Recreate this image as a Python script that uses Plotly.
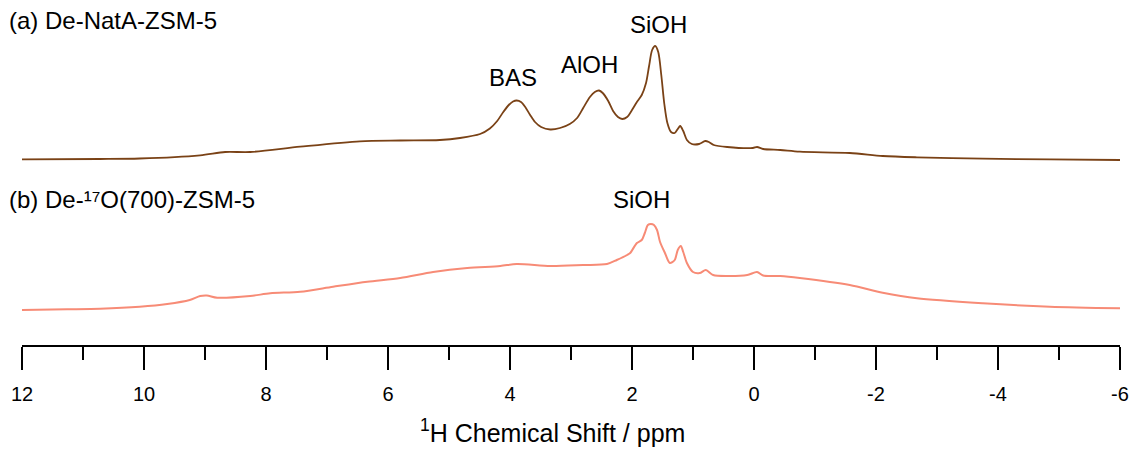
import plotly.graph_objects as go

# Spectrum (a) De-NatA-ZSM-5 : chemical shift (ppm) and intensity (a.u.)
ppm_a = [12.00, 10.72, 10.07, 9.08, 8.67, 8.26, 7.44, 6.46, 5.80, 5.15, 4.82, 4.49,
         4.33, 4.21, 4.11, 4.02, 3.95, 3.89, 3.82, 3.75, 3.67, 3.59, 3.49, 3.34,
         3.18, 3.02, 2.90, 2.80, 2.69, 2.61, 2.54, 2.48, 2.39, 2.31, 2.23, 2.16,
         2.08, 2.00, 1.92, 1.84, 1.77, 1.72, 1.67, 1.62, 1.57, 1.52, 1.47, 1.42,
         1.36, 1.30, 1.25, 1.21, 1.16, 1.10, 1.02, 0.90, 0.80, 0.74, 0.66, 0.44,
         0.02, -0.05, -0.15, -0.43, -0.75, -1.57, -2.11, -2.67, -3.75, -4.85, -6.00]
int_a = [0.7, 1.0, 1.5, 4.7, 8.0, 8.0, 13.3, 18.7, 19.5, 20.0, 22.0, 26.0,
         31.5, 39.0, 48.0, 55.0, 58.5, 59.5, 58.0, 53.0, 45.0, 38.0, 33.0, 30.5,
         32.0, 36.0, 42.0, 52.0, 63.0, 68.0, 69.5, 67.0, 59.0, 49.0, 43.0, 41.0,
         43.0, 50.0, 58.0, 65.0, 77.0, 94.0, 110.0, 114.0, 108.0, 85.0, 56.0, 37.0,
         28.0, 27.0, 31.0, 34.0, 29.0, 20.0, 16.0, 16.0, 19.0, 18.0, 15.0, 13.0,
         12.0, 13.0, 11.0, 10.0, 8.3, 7.0, 4.0, 2.7, 1.3, 0.7, 0.0]

# Spectrum (b) De-17O(700)-ZSM-5
ppm_b = [12.00, 11.26, 10.72, 10.07, 9.62, 9.25, 9.08, 8.97, 8.80, 8.26, 7.93, 7.44,
         6.90, 6.34, 5.80, 5.26, 4.70, 4.16, 3.89, 3.34, 2.80, 2.41, 2.25, 2.08,
         2.03, 1.92, 1.84, 1.79, 1.74, 1.69, 1.64, 1.59, 1.54, 1.46, 1.38, 1.30,
         1.25, 1.20, 1.16, 1.10, 1.00, 0.89, 0.79, 0.67, 0.44, 0.11, -0.05, -0.15,
         -0.43, -0.75, -1.57, -2.11, -2.67, -3.75, -4.85, -6.00]
int_b = [0.0, 0.7, 1.3, 3.3, 6.0, 10.0, 14.0, 14.5, 12.3, 14.0, 16.7, 18.3,
         23.3, 28.3, 32.0, 38.0, 42.0, 44.0, 46.0, 44.0, 45.0, 46.0, 50.0, 55.0,
         57.0, 67.0, 70.0, 77.0, 85.0, 86.0, 85.0, 80.0, 68.0, 57.0, 47.0, 50.0,
         60.0, 64.0, 58.0, 47.0, 38.0, 37.0, 40.0, 35.0, 34.0, 35.0, 38.0, 34.5,
         34.0, 32.0, 25.0, 17.3, 11.7, 6.7, 3.3, 1.7]

offset_a = 185
offset_b = 35

tick_vals = [12, 10, 8, 6, 4, 2, 0, -2, -4, -6]
tick_text = ["12", "10", "8", "6", "4", "2", "0", "-2", "-4", "-6"]
x_title = "<sup>1</sup>H Chemical Shift / ppm"

color_a = "#7a4216"
color_b = "#f78b76"
font_fam = "Liberation Sans, Arial, sans-serif"

fig = go.Figure()
fig.add_trace(go.Scatter(x=ppm_a, y=[v + offset_a for v in int_a], mode="lines",
                         line=dict(color=color_a, width=1.8, shape="spline", smoothing=0.8),
                         showlegend=False, hoverinfo="skip"))
fig.add_trace(go.Scatter(x=ppm_b, y=[v + offset_b for v in int_b], mode="lines",
                         line=dict(color=color_b, width=2.0, shape="spline", smoothing=0.8),
                         showlegend=False, hoverinfo="skip"))

ann_font = dict(family=font_fam, size=24, color="black")
annotations = [
    dict(text="(a) De-NatA-ZSM-5", xref="paper", yref="y", x=-0.0135, y=325,
         xanchor="left", yanchor="middle", showarrow=False, font=ann_font),
    dict(text="BAS", xref="x", yref="y", x=3.95, y=268, showarrow=False, font=ann_font),
    dict(text="AlOH", xref="x", yref="y", x=2.69, y=281, showarrow=False, font=ann_font),
    dict(text="SiOH", xref="x", yref="y", x=1.56, y=321, showarrow=False, font=ann_font),
    dict(text="(b) De-¹⁷O(700)-ZSM-5", xref="paper", yref="y", x=-0.0135, y=146,
         xanchor="left", yanchor="middle", showarrow=False, font=ann_font),
    dict(text="SiOH", xref="x", yref="y", x=1.85, y=146, showarrow=False, font=ann_font),
    dict(text=x_title, xref="paper", yref="paper", x=0.4827, y=-0.250,
         xanchor="center", yanchor="middle", showarrow=False,
         font=dict(family=font_fam, size=25, color="black")),
]

fig.update_layout(
    width=1131, height=450, autosize=False,
    margin=dict(l=22, r=11, t=0, b=105),
    paper_bgcolor="white", plot_bgcolor="white",
    annotations=annotations,
    xaxis=dict(
        range=[12, -6], showgrid=False, zeroline=False,
        showline=True, linecolor="black", linewidth=2,
        ticks="outside", ticklen=23, tickwidth=2, tickcolor="black",
        tickvals=tick_vals, ticktext=tick_text,
        tickfont=dict(family=font_fam, size=20, color="black"),
        ticklabelstandoff=7,
        minor=dict(dtick=1, tick0=0, ticks="outside", ticklen=13, tickwidth=2, tickcolor="black"),
    ),
    yaxis=dict(range=[0, 345], visible=False, showgrid=False, zeroline=False),
)

fig.write_html("out.html")
